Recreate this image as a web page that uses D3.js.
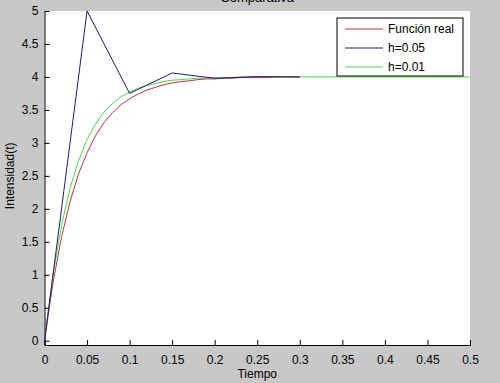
<!DOCTYPE html>
<html>
<head>
<meta charset="utf-8">
<script src="https://cdn.jsdelivr.net/npm/d3@7"></script>
<style>
  body { margin: 0; background: #c8c8c8; }
  svg { display: block; font-family: "Liberation Sans", Arial, sans-serif; }
  .axis text { font-size: 12px; fill: #000; }
  .axis path, .axis line { stroke: #000; }
</style>
</head>
<body>
<div id="chart"></div>
<script>
// time grid for each series
var tReal = [0, 0.01, 0.02, 0.03, 0.04, 0.05, 0.06, 0.07, 0.08, 0.09, 0.10,
  0.11, 0.12, 0.13, 0.14, 0.15, 0.16, 0.17, 0.18, 0.19, 0.20,
  0.21, 0.22, 0.23, 0.24, 0.25, 0.26, 0.27, 0.28, 0.29, 0.30]
var yReal = [0, 0.88, 1.57, 2.11, 2.53, 2.85, 3.11, 3.31, 3.46, 3.58, 3.67,
  3.74, 3.80, 3.84, 3.88, 3.91, 3.93, 3.94, 3.96, 3.97, 3.97,
  3.98, 3.98, 3.99, 3.99, 3.99, 3.99, 4.0, 4.0, 4.0, 4.0]

var tH05 = [0, 0.05, 0.10, 0.15, 0.20, 0.25, 0.30]
var yH05 = [0, 5.0, 3.75, 4.06, 3.98, 4.005, 4.0]

var tH01 = [0, 0.01, 0.02, 0.03, 0.04, 0.05, 0.06, 0.07, 0.08, 0.09, 0.10,
  0.11, 0.12, 0.13, 0.14, 0.15, 0.16, 0.17, 0.18, 0.19, 0.20,
  0.21, 0.22, 0.23, 0.24, 0.25, 0.30, 0.35, 0.40, 0.45, 0.50]
var yH01 = [0, 1.0, 1.75, 2.31, 2.73, 3.05, 3.29, 3.47, 3.60, 3.70, 3.77,
  3.83, 3.87, 3.90, 3.93, 3.95, 3.96, 3.97, 3.98, 3.98, 3.99,
  3.99, 3.99, 4.0, 4.0, 4.0, 4.0, 4.0, 4.0, 4.0, 4.0]

var xTicks = [0, 0.05, 0.1, 0.15, 0.2, 0.25, 0.3, 0.35, 0.4, 0.45, 0.5]
var yTicks = [0, 0.5, 1, 1.5, 2, 2.5, 3, 3.5, 4, 4.5, 5]

var seriesNames = ["Función real", "h=0.05", "h=0.01"]
var seriesColors = ["#b8383a", "#1c1c7a", "#4ed64e"]

var width = 500,
  height = 383

var margin = { top: 11, right: 30, bottom: 38, left: 44.5 }

var svg = d3.select("#chart")
  .append("svg")
  .attr("width", width)
  .attr("height", height)

// white plot area
svg.append("rect")
  .attr("x", margin.left)
  .attr("y", margin.top)
  .attr("width", width - margin.right - margin.left)
  .attr("height", height - margin.bottom - margin.top)
  .attr("fill", "#fff")

var x = d3.scaleLinear().domain([0, 0.5]).range([margin.left, width - margin.right])
var y = d3.scaleLinear().domain([-0.065, 5]).range([height - margin.bottom, margin.top])

// axes with inward ticks
svg.append("g")
  .attr("class", "axis")
  .attr("transform", "translate(0," + (height - margin.bottom) + ")")
  .call(d3.axisBottom(x).tickValues(xTicks).tickSizeInner(-5).tickSizeOuter(-5).tickPadding(10)
    .tickFormat(function(d) { return d3.format("")(+d.toFixed(2)) }))

svg.append("g")
  .attr("class", "axis")
  .attr("transform", "translate(" + margin.left + ",0)")
  .call(d3.axisLeft(x.copy().domain(y.domain()).range(y.range())).tickValues(yTicks).tickSizeInner(-5).tickSizeOuter(0).tickPadding(6)
    .tickFormat(d3.format("")))

svg.selectAll(".axis .domain").attr("stroke-width", 1)

// lines
var line = d3.line()
  .x(function(d) { return x(d[0]) })
  .y(function(d) { return y(d[1]) })

var seriesData = [
  d3.zip(tReal, yReal),
  d3.zip(tH05, yH05),
  d3.zip(tH01, yH01)
]

// draw green first, then red, then blue on top
;[2, 0, 1].forEach(function(i) {
  svg.append("path")
    .datum(seriesData[i])
    .attr("d", line)
    .attr("fill", "none")
    .attr("stroke", seriesColors[i])
    .attr("stroke-width", 1)
})

// legend
var legend = svg.append("g").attr("transform", "translate(337,18)")
legend.append("rect")
  .attr("width", 126)
  .attr("height", 58)
  .attr("fill", "#fff")
  .attr("stroke", "#000")

var rows = legend.selectAll("g.row")
  .data(seriesNames)
  .enter().append("g")
  .attr("class", "row")
  .attr("transform", function(d, i) { return "translate(0," + (11 + i * 19) + ")" })

rows.append("line")
  .attr("x1", 8).attr("x2", 46)
  .attr("stroke", function(d, i) { return seriesColors[i] })

rows.append("text")
  .attr("x", 51)
  .attr("dy", "0.35em")
  .style("font-size", "12px")
  .text(function(d) { return d })

// labels
svg.append("text")
  .attr("x", x(0.25))
  .attr("y", 378)
  .attr("text-anchor", "middle")
  .style("font-size", "12px")
  .text("Tiempo")

svg.append("text")
  .attr("transform", "translate(14," + y(2.5) + ") rotate(-90)")
  .attr("text-anchor", "middle")
  .style("font-size", "12px")
  .text("Intensidad(t)")

svg.append("text")
  .attr("x", x(0.25))
  .attr("y", 2)
  .attr("text-anchor", "middle")
  .style("font-size", "13px")
  .text("Comparativa")
</script>
</body>
</html>
